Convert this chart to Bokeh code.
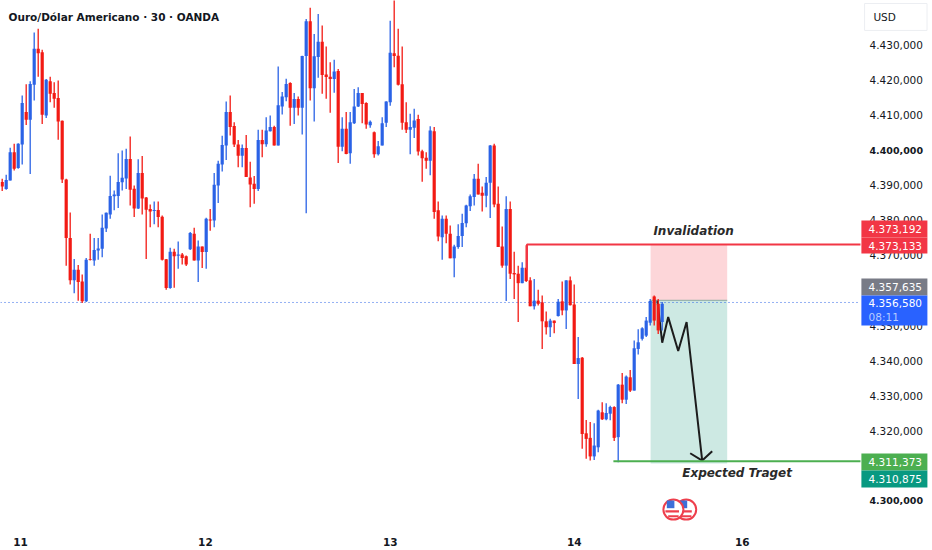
from bokeh.plotting import figure
from bokeh.models import Range1d, FixedTicker, Label, LinearAxis
from bokeh.core.properties import value
from bokeh.embed import file_html
from bokeh.resources import INLINE
import numpy as np

opens = [4391.0,4389.0,4391.4,4399.5,4395.0,4401.7,4411.0,4408.8,4418.8,4429.1,
4428.1,4410.0,4419.8,4416.4,4415.0,4408.5,4391.7,4375.0,4362.9,4365.9,
4362.6,4356.9,4368.9,4368.6,4371.4,4371.9,4377.7,4381.7,4386.9,4387.0,
4390.9,4392.0,4397.6,4389.1,4383.4,4393.6,4386.6,4383.3,4382.7,4383.0,
4381.1,4368.9,4360.7,4371.1,4369.9,4370.3,4369.8,4371.8,4376.2,4368.6,
4372.6,4371.0,4380.3,4380.0,4390.0,4396.0,4401.4,4411.0,4407.0,4401.7,
4398.5,4400.7,4392.3,4390.5,4389.0,4403.0,4401.8,4405.5,4406.7,4401.4,
4412.6,4415.2,4419.3,4412.2,4414.7,4412.2,4427.0,4436.9,4417.8,4426.7,
4431.1,4421.7,4421.1,4420.4,4422.7,4401.1,4406.2,4399.2,4407.8,4412.6,
4416.4,4413.6,4407.2,4405.2,4398.9,4401.4,4407.9,4413.8,4427.8,4427.1,
4418.9,4408.1,4405.9,4406.5,4409.0,4399.8,4397.9,4397.1,4405.5,4382.9,
4375.2,4380.5,4376.2,4369.2,4372.4,4375.6,4379.2,4384.1,4386.7,4391.9,
4387.9,4387.1,4390.8,4401.4,4384.8,4372.6,4367.1,4383.3,4365.0,4364.8,
4362.1,4366.5,4362.9,4355.5,4357.1,4356.6,4351.2,4349.5,4351.4,4352.7,
4356.9,4354.3,4362.9,4356.0,4339.0,4340.8,4319.2,4317.9,4312.6,4315.2,
4325.2,4323.2,4324.8,4326.7,4318.1,4333.1,4328.8,4335.2,4331.4,4343.3,
4346.2,4347.1,4350.8,4358.3,4356.2,4351.0]
closes = [4389.7,4391.6,4399.5,4394.8,4401.9,4413.6,4408.8,4419.0,4429.1,4427.8,
4410.2,4420.2,4416.2,4414.8,4408.3,4391.7,4375.0,4362.9,4365.9,4362.4,
4356.9,4368.8,4368.7,4371.6,4372.0,4377.9,4382.2,4387.0,4387.4,4391.0,
4392.2,4397.6,4388.8,4383.4,4393.6,4386.3,4383.1,4382.6,4383.0,4381.0,
4368.8,4360.7,4371.1,4369.8,4370.3,4369.3,4367.4,4376.4,4368.6,4372.6,
4371.0,4380.5,4380.0,4390.2,4396.2,4401.6,4411.0,4406.7,4401.7,4398.5,
4400.7,4392.4,4390.3,4389.0,4403.0,4401.8,4405.7,4406.7,4401.4,4412.9,
4415.4,4419.0,4412.2,4414.7,4412.2,4427.0,4436.9,4417.8,4426.9,4431.1,
4421.6,4421.0,4420.4,4422.6,4401.1,4406.2,4399.0,4408.1,4412.6,4416.4,
4413.3,4407.4,4408.2,4398.9,4401.2,4407.8,4414.0,4427.9,4427.0,4418.8,
4407.9,4405.9,4406.7,4408.6,4399.7,4397.8,4397.1,4405.7,4382.4,4375.4,
4380.5,4376.2,4369.2,4372.6,4375.6,4379.3,4384.3,4386.9,4391.9,4387.4,
4387.1,4390.8,4401.4,4384.6,4372.4,4367.1,4383.3,4364.8,4364.6,4362.1,
4366.5,4362.7,4355.5,4357.1,4356.2,4351.2,4349.5,4351.4,4350.7,4356.8,
4354.3,4362.9,4355.8,4339.0,4340.7,4319.0,4317.6,4312.6,4315.7,4325.7,
4323.2,4325.0,4326.7,4317.9,4333.1,4328.8,4335.4,4331.4,4343.5,4345.2,
4349.2,4351.4,4357.0,4351.4,4348.6,4356.2]
highs = [4391.9,4393.1,4400.8,4401.9,4402.1,4415.7,4418.9,4419.8,4433.7,4434.8,
4428.8,4420.4,4421.1,4419.5,4420.0,4408.6,4391.9,4382.3,4369.0,4367.3,
4364.6,4369.3,4376.2,4375.0,4375.0,4381.7,4382.3,4392.8,4388.6,4399.2,
4400.0,4400.5,4404.0,4390.0,4397.5,4398.4,4386.7,4384.6,4385.4,4385.4,
4381.4,4369.0,4372.2,4371.9,4374.0,4370.7,4370.0,4376.7,4377.9,4374.3,
4372.6,4380.8,4383.3,4393.6,4397.1,4404.2,4414.0,4415.7,4408.1,4403.0,
4401.7,4404.4,4396.8,4392.7,4405.9,4405.9,4409.5,4410.0,4407.1,4424.0,
4416.7,4420.5,4419.5,4416.4,4415.4,4427.1,4437.6,4440.8,4433.3,4439.0,
4435.7,4429.7,4425.2,4425.9,4423.3,4409.5,4411.0,4411.0,4417.6,4418.1,
4416.4,4413.8,4408.6,4405.4,4402.7,4409.5,4414.1,4437.1,4444.5,4434.8,
4429.7,4413.8,4410.5,4411.9,4410.2,4400.2,4399.5,4406.9,4406.7,4385.4,
4381.4,4381.4,4378.6,4373.1,4378.9,4381.9,4384.5,4387.4,4393.3,4396.2,
4389.7,4392.4,4401.6,4401.9,4389.7,4378.3,4386.9,4385.4,4371.1,4367.1,
4368.1,4372.9,4363.8,4363.3,4360.2,4358.6,4354.0,4351.9,4351.4,4357.6,
4362.6,4362.9,4364.0,4361.7,4346.7,4341.0,4323.0,4322.4,4322.1,4325.9,
4328.1,4327.8,4327.1,4326.9,4333.3,4336.4,4335.7,4337.3,4345.7,4348.9,
4349.5,4352.4,4357.6,4358.6,4357.6,4356.7]
lows = [4388.4,4388.8,4391.4,4394.3,4394.8,4396.0,4407.3,4393.3,4414.3,4421.1,
4407.6,4409.3,4413.8,4412.2,4403.1,4390.7,4367.1,4361.7,4359.2,4357.1,
4356.4,4356.7,4368.6,4367.1,4368.8,4369.5,4376.7,4380.5,4382.9,4383.6,
4388.6,4389.0,4384.3,4381.0,4383.3,4381.7,4369.0,4378.1,4378.9,4378.1,
4368.6,4360.2,4360.5,4360.8,4366.2,4367.4,4367.0,4371.6,4368.6,4362.4,
4366.4,4366.2,4377.1,4378.1,4385.0,4394.0,4397.3,4404.3,4401.0,4395.2,
4395.2,4392.4,4383.8,4384.8,4388.4,4398.1,4401.1,4405.4,4401.4,4401.4,
4410.3,4414.1,4407.1,4407.6,4410.0,4404.6,4382.1,4414.3,4408.3,4420.8,
4416.2,4414.8,4410.8,4416.5,4396.4,4399.8,4398.9,4396.2,4407.6,4412.4,
4407.8,4406.2,4406.5,4397.9,4398.6,4401.4,4406.7,4412.8,4423.8,4418.6,
4405.9,4405.0,4398.9,4403.6,4398.6,4391.1,4394.8,4392.9,4380.5,4374.1,
4368.8,4373.5,4369.2,4363.8,4371.9,4372.4,4378.1,4382.7,4384.3,4387.4,
4382.6,4383.8,4380.7,4383.8,4372.4,4366.5,4357.0,4363.3,4357.6,4351.0,
4362.1,4362.4,4355.5,4354.6,4355.7,4343.3,4347.4,4346.7,4347.8,4352.6,
4352.9,4349.0,4355.7,4339.0,4329.0,4314.8,4311.9,4311.4,4311.6,4313.8,
4323.0,4322.9,4322.9,4317.0,4310.9,4327.8,4327.6,4331.0,4331.4,4341.7,
4345.7,4346.7,4350.0,4350.0,4347.6,4348.6]

price_ticks = [4430,4420,4410,4390,4380,4370,4350,4340,4330,4320]
price_labels = ["4.430,000","4.420,000","4.410,000","4.390,000","4.380,000",
                "4.370,000","4.350,000","4.340,000","4.330,000","4.320,000"]
major_price_ticks = [4400,4300]
major_price_labels = ["4.400,000","4.300,000"]
day_ticks = [4.6, 50.8, 97, 143, 185]
day_labels = ["11","12","13","14","16"]

invalidation_price = 4373.133
target_price = 4311.2
last_price = 4356.58
entry_price = 4357.2
zone_left, zone_right = 162.1, 181.25
zig_x = [163.8,165,166.5,169,171.1,175]
zig_y = [4357.1,4345.1,4352.4,4342.7,4351.0,4311.4]
head_x = [172,175,177.5]
head_y = [4313.5,4311.4,4314.1]

tag_tops = [4380.0,4375.14,4363.43,4313.43,4308.57]
tag_bottoms = [4375.14,4370.57,4358.57,4308.57,4303.71]
tag_texts = ["4.373,192","4.373,133","4.357,635","4.311,373","4.310,875"]
tag_colors = ["#f23645","#f23645","#787b86","#4caf50","#089981"]
clock_top, clock_bottom = 4358.57, 4350.0
clock_price = "4.356,580"
clock_time = "08:11"

FONT = "DejaVu Sans"
INK = "#131722"
RED = "#f21a14"
BLUE = "#2a62e6"
AXIS_X = 214.575
RIGHT_X = 232.575

p = figure(width=932, height=550, output_backend="svg", toolbar_location=None,
           x_range=Range1d(-0.425, RIGHT_X), y_range=Range1d(4293.143, 4442.857),
           x_axis_location="below", y_axis_location=None,
           min_border_left=0, min_border_top=0, min_border_right=0, min_border_bottom=26,
           background_fill_color="white", border_fill_color="white", outline_line_color=None)
p.grid.visible = False

def price_axis(ticks, labels, size, style, standoff):
    ax = LinearAxis(fixed_location=AXIS_X)
    ax.ticker = FixedTicker(ticks=ticks)
    ax.major_label_overrides = {float(t): s for t, s in zip(ticks, labels)}
    ax.major_label_text_font = FONT
    ax.major_label_text_font_size = size
    ax.major_label_text_font_style = style
    ax.major_label_text_color = INK
    ax.major_label_standoff = standoff
    ax.axis_line_color = None
    ax.major_tick_line_color = None
    ax.minor_tick_line_color = None
    p.add_layout(ax, "right")

price_axis(price_ticks, price_labels, "10.5px", "normal", 3)
price_axis(major_price_ticks, major_price_labels, "9.5px", "bold", 3)

bx = p.xaxis[0]
bx.ticker = FixedTicker(ticks=day_ticks)
bx.major_label_overrides = {float(t): s for t, s in zip(day_ticks, day_labels)}
bx.major_label_text_font = FONT
bx.major_label_text_font_size = "10.5px"
bx.major_label_text_font_style = "bold"
bx.major_label_text_color = INK
bx.major_label_standoff = 7
bx.axis_line_color = None
bx.major_tick_line_color = None
bx.minor_tick_line_color = None

p.quad(left=[zone_left], right=[zone_right], top=[invalidation_price], bottom=[entry_price],
       fill_color="#fdd6d9", line_color=None)
p.quad(left=[zone_left], right=[zone_right], top=[entry_price], bottom=[4310.6],
       fill_color="#cde9e3", line_color=None)
p.line([zone_left, zone_right], [entry_price, entry_price], line_color="#8aa89f", line_width=1)

p.line([-0.425, AXIS_X], [last_price, last_price], line_color=BLUE, line_width=1, line_dash="1 3")

p.line(zig_x, zig_y, line_color="#1c1c1c", line_width=2)
p.line(head_x, head_y, line_color="#1c1c1c", line_width=2)

x = np.arange(len(opens))
o, c, h, l = map(np.array, (opens, closes, highs, lows))
colors = [BLUE if cc >= oo else RED for oo, cc in zip(opens, closes)]
p.segment(x, h, x, l, line_color=colors, line_width=1.3)
p.vbar(x=x, width=0.8, top=np.maximum(o, c), bottom=np.minimum(o, c),
       fill_color=colors, line_color=None)

p.line([131.2, 131.2, AXIS_X], [4366.0, invalidation_price, invalidation_price],
       line_color="#f23645", line_width=2)
p.line([152.8, AXIS_X], [target_price, target_price], line_color="#4caf50", line_width=2)

p.text(x=[162.8], y=[4376.9], text=["Invalidation"], text_font=value(FONT), text_font_style="bold italic",
       text_font_size="12px", text_color="#2a2a2a", text_baseline="middle")
p.text(x=[170], y=[4307.9], text=["Expected Traget"], text_font=value(FONT), text_font_style="bold italic",
       text_font_size="12px", text_color="#2a2a2a", text_baseline="middle")

for fx in (171.0, 167.8):
    p.scatter([fx], [4297.4], marker="circle", size=20, fill_color="white",
              line_color="#ee3f4c", line_width=2)
    p.rect([fx-0.3], [4296.9], width=3.4, height=0.6, fill_color="#ee3f4c", line_color=None)
    p.rect([fx], [4295.5], width=2.6, height=0.6, fill_color="#ee3f4c", line_color=None)
    p.rect([fx-0.7], [4298.9], width=1.9, height=2.2, fill_color="#3d6fd8", line_color=None)

p.add_layout(Label(x=8, y=508, x_units="screen", y_units="screen", text="Ouro/Dólar Americano · 30 · OANDA",
                   text_font=FONT, text_font_style="bold", text_font_size="10.5px", text_color=INK,
                   text_baseline="middle"))

# USD button
p.quad(left=[215.6], right=[231.2], top=[4442.0], bottom=[4434.3], fill_color="white", line_color="#eceef2")
p.text(x=[217.8], y=[4438.1], text=["USD"], text_font=value(FONT), text_font_size="10.5px",
       text_color=INK, text_baseline="middle")

# price tags, above the axis labels
TAG_L, TAG_R, TAG_TX = 214.8, 231.3, 216.6
n = len(tag_texts)
p.quad(left=[TAG_L]*n, right=[TAG_R]*n, top=tag_tops, bottom=tag_bottoms, fill_color=tag_colors,
       line_color=None, level="annotation")
p.text(x=[TAG_TX]*n, y=[(a+b)/2 for a, b in zip(tag_tops, tag_bottoms)], text=tag_texts,
       text_font=value(FONT), text_font_size="10.5px", text_color="white", text_baseline="middle",
       level="annotation")
p.quad(left=[TAG_L], right=[TAG_R], top=[clock_top], bottom=[clock_bottom], fill_color="#2962ff",
       line_color=None, level="annotation")
p.text(x=[TAG_TX], y=[4356.3], text=[clock_price], text_font=value(FONT), text_font_size="10.5px",
       text_color="white", text_baseline="middle", level="annotation")
p.text(x=[TAG_TX], y=[4352.5], text=[clock_time], text_font=value(FONT), text_font_size="10.5px",
       text_color="#b8ccff", text_baseline="middle", level="annotation")

assert len(opens) == len(closes) == len(highs) == len(lows) == 166

open("out.html", "w").write(file_html(p, INLINE))
